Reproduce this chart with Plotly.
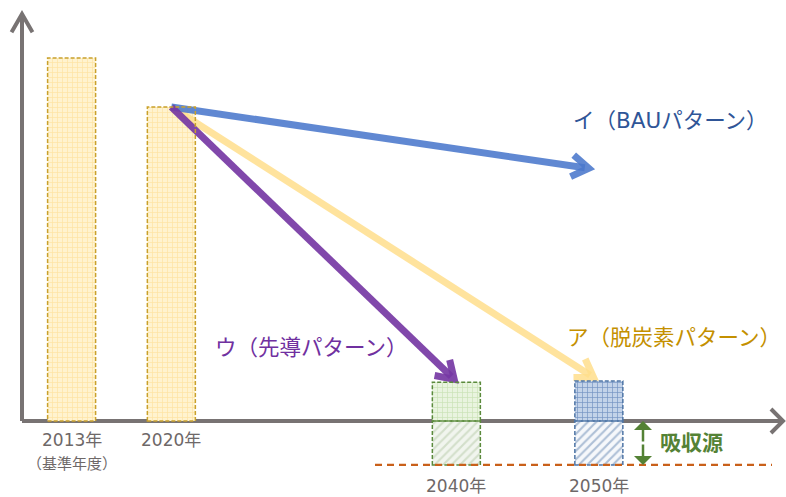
import math
import plotly.graph_objects as go

# ---------------- data ----------------
years = [2013, 2020, 2040, 2050]
year_labels = ["2013年", "2020年", "2040年", "2050年"]
base_note = "（基準年度）"
emissions = [100.0, 86.5, 10.7, 11.0]          # index, 2013 = 100
sink_years = [2040, 2050]
sink_values = [-12.1, -12.1]                    # absorption (below zero)
scenario_names = ["イ（BAUパターン）", "ウ（先導パターン）", "ア（脱炭素パターン）"]
scenario_end_year = [2049.5, 2040, 2049.8]
scenario_end_value = [69.5, 10.9, 11.6]
sink_label = "吸収源"

# ---------------- geometry / mapping ----------------
W, H = 786, 497
X_PX0, X_SCALE = 71.6, 14.25     # px of 2013, px per year
Y_PX0, Y_SCALE = 421.0, 3.63     # px of zero, px per unit
x_range = [2013 - X_PX0 / X_SCALE, 2013 + (W - X_PX0) / X_SCALE]
y_range = [-(H - Y_PX0) / Y_SCALE, Y_PX0 / Y_SCALE]


def to_px(x, y):
    return X_PX0 + (x - 2013) * X_SCALE, Y_PX0 - y * Y_SCALE


def from_px(px, py):
    return 2013 + (px - X_PX0) / X_SCALE, (Y_PX0 - py) / Y_SCALE


BAR_W = 48 / X_SCALE
AXIS_GRAY = "#787373"
LABEL_GRAY = "#6e6868"
FONT = "DejaVu Sans, Noto Sans CJK JP, sans-serif"
CJK = "Noto Sans CJK JP, sans-serif"

fig = go.Figure()

# bar styles: (bg, pattern fg, border)
top_styles = [
    ("#fff3cf", "#fde3a0", "#c9a12c"),
    ("#fff3cf", "#fde3a0", "#c9a12c"),
    ("#e9f4df", "#c9e2b5", "#5b8a3c"),
    ("#c3d3e9", "#7393c2", "#4f76a6"),
]
bottom_styles = [
    ("#f1f5ee", "#d3dfca", "#5b8a3c"),
    ("#f6f8fb", "#adbfd6", "#4f76a6"),
]

shapes = []

# axes (below traces)
ax_x0, _ = from_px(22, 0)
_, ax_ytop = from_px(0, 14)
ax_x1, _ = from_px(783, 0)
shapes.append(dict(type="line", xref="x", yref="y", x0=ax_x0, x1=ax_x0, y0=0, y1=ax_ytop - 0.3,
                   line=dict(color=AXIS_GRAY, width=4), layer="below"))
shapes.append(dict(type="line", xref="x", yref="y", x0=ax_x0, x1=ax_x1 - 0.05, y0=0, y1=0,
                   line=dict(color=AXIS_GRAY, width=4), layer="below"))


def chevron_path(tip_px, dir_u, L, ang):
    pts = []
    for s in (1, -1):
        a = math.radians(ang) * s
        rx, ry = -dir_u[0], -dir_u[1]
        cx = rx * math.cos(a) - ry * math.sin(a)
        cy = rx * math.sin(a) + ry * math.cos(a)
        pts.append((tip_px[0] + L * cx, tip_px[1] + L * cy))
    return pts


def px_path(points):
    d = []
    for i, (px, py) in enumerate(points):
        x, y = from_px(px, py)
        d.append(("M" if i == 0 else "L") + f"{x},{y}")
    return " ".join(d)


# y-axis head
p = chevron_path((22, 14), (0, -1), 21, 30)
shapes.append(dict(type="path", xref="x", yref="y", path=px_path([p[0], (22, 14), p[1]]),
                   line=dict(color=AXIS_GRAY, width=4), layer="below"))
# x-axis head
p = chevron_path((783, 421), (1, 0), 17, 45)
shapes.append(dict(type="path", xref="x", yref="y", path=px_path([p[0], (783, 421), p[1]]),
                   line=dict(color=AXIS_GRAY, width=4), layer="below"))

# emission bars
for yr, v, (bg, fg, bd) in zip(years, emissions, top_styles):
    fig.add_trace(go.Bar(
        x=[yr], y=[v], base=0, width=BAR_W,
        marker=dict(color=bg, line=dict(width=0),
                    pattern=dict(shape="+", fgcolor=fg, bgcolor=bg, size=5, solidity=0.25, fillmode="replace")),
        showlegend=False, hoverinfo="skip"))
    shapes.append(dict(type="rect", xref="x", yref="y", x0=yr - BAR_W / 2, x1=yr + BAR_W / 2, y0=0, y1=v,
                       line=dict(color=bd, width=1.5, dash="4px,2px"), fillcolor="rgba(0,0,0,0)"))

# sink bars
for yr, v, (bg, fg, bd) in zip(sink_years, sink_values, bottom_styles):
    fig.add_trace(go.Bar(
        x=[yr], y=[v], base=0, width=BAR_W,
        marker=dict(color=bg, line=dict(width=0),
                    pattern=dict(shape="/", fgcolor=fg, bgcolor=bg, size=6, solidity=0.35, fillmode="replace")),
        showlegend=False, hoverinfo="skip"))
    shapes.append(dict(type="rect", xref="x", yref="y", x0=yr - BAR_W / 2, x1=yr + BAR_W / 2, y0=v, y1=0,
                       line=dict(color=bd, width=1.5, dash="4px,2px"), fillcolor="rgba(0,0,0,0)"))

# sink baseline (dashed orange)
sx0, _ = from_px(375, 0)
sx1, _ = from_px(772, 0)
shapes.append(dict(type="line", xref="x", yref="y", x0=sx0, x1=sx1, y0=min(sink_values), y1=min(sink_values),
                   line=dict(color="#c9601a", width=2.2, dash="7px,5px")))

# scenario arrows from 2020
start_x, start_y = years[1], emissions[1]
arrow_colors = ["rgba(74,120,204,0.88)", "rgba(118,56,164,0.92)", "rgba(255,222,140,0.85)"]
draw_order = [2, 0, 1]
for i in draw_order:
    sp = to_px(start_x, start_y)
    tp = to_px(scenario_end_year[i], scenario_end_value[i])
    dx, dy = tp[0] - sp[0], tp[1] - sp[1]
    n = math.hypot(dx, dy)
    u = (dx / n, dy / n)
    tp = (tp[0] - 3 * u[0], tp[1] - 3 * u[1])
    back = (tp[0] - 4 * u[0], tp[1] - 4 * u[1])
    arms = chevron_path(tp, u, 20, 33)
    pts = [sp, back, None, arms[0], tp, arms[1]]
    xs, ys = [], []
    for pt in pts:
        if pt is None:
            xs.append(None); ys.append(None)
        else:
            x, y = from_px(*pt)
            xs.append(x); ys.append(y)
    fig.add_trace(go.Scatter(x=xs, y=ys, mode="lines",
                             line=dict(color=arrow_colors[i], width=7),
                             showlegend=False, hoverinfo="skip"))

annotations = []
# scenario labels
label_pos = [(670, 120), (311, 347), (674, 337)]
label_colors = ["#2f5597", "#7030a0", "#c49000"]
for name, (px, py), col in zip(scenario_names, label_pos, label_colors):
    x, y = from_px(px, py)
    annotations.append(dict(x=x, y=y, xref="x", yref="y", text=name, showarrow=False,
                            font=dict(family=FONT, size=21.5, color=col)))

# year labels
for yr, lab in zip(years, year_labels):
    if yr < 2030:
        _, y = from_px(0, 440)
        annotations.append(dict(x=yr, y=y, xref="x", yref="y", text=lab, showarrow=False,
                                font=dict(family=FONT, size=17, color=LABEL_GRAY)))
    else:
        _, y = from_px(0, 497)
        annotations.append(dict(x=yr, y=y, xref="x", yref="y", text=lab, showarrow=False,
                                yanchor="bottom", borderpad=0,
                                font=dict(family=FONT, size=17, color=LABEL_GRAY)))
_, y = from_px(0, 462)
annotations.append(dict(x=years[0], y=y, xref="x", yref="y", text=base_note, showarrow=False,
                        font=dict(family=CJK, size=15, color=LABEL_GRAY)))

# sink double arrow + label
gx, _ = from_px(643, 0)
mid = min(sink_values) / 2
for tip in (0, min(sink_values)):
    annotations.append(dict(x=gx, y=tip, ax=gx, ay=mid, xref="x", yref="y", axref="x", ayref="y",
                            text="", showarrow=True, arrowhead=1, arrowsize=1.2, arrowwidth=2.5,
                            arrowcolor="#548235"))
lx, ly = from_px(691, 441)
annotations.append(dict(x=lx, y=ly, xref="x", yref="y", text="<b>" + sink_label + "</b>", showarrow=False,
                        font=dict(family=CJK, size=21, color="#548235")))

fig.update_layout(
    width=W, height=H,
    margin=dict(l=0, r=0, t=0, b=0),
    paper_bgcolor="white", plot_bgcolor="white",
    xaxis=dict(range=x_range, visible=False, fixedrange=True),
    yaxis=dict(range=y_range, visible=False, fixedrange=True),
    barmode="overlay",
    shapes=shapes,
    annotations=annotations,
    showlegend=False,
)

fig.write_html("out.html", config={"displayModeBar": False},
               post_script="document.body.style.margin='0';")
